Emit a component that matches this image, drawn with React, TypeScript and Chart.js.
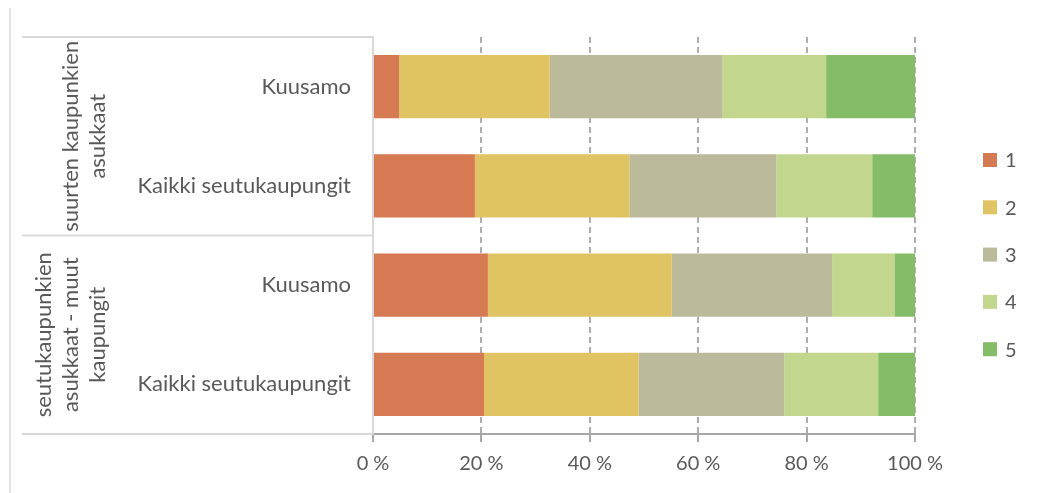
import { useEffect, useRef } from "react";
import { Chart, registerables } from "chart.js";

Chart.register(...registerables);

// Row labels (bottom-level categories) and their outer groups
const categories = ["Kuusamo", "Kaikki seutukaupungit", "Kuusamo", "Kaikki seutukaupungit"];
const groupLabels = [
  ["suurten kaupunkien", "asukkaat"],
  ["seutukaupunkien", "asukkaat - muut", "kaupungit"],
];
const groupSizes = [2, 2];

// Answer shares (%) per rating 1..5
const seriesNames = ["1", "2", "3", "4", "5"];
const rating1 = [4.8, 18.8, 21.2, 20.5];
const rating2 = [27.8, 28.5, 33.9, 28.5];
const rating3 = [31.8, 27.1, 29.6, 26.9];
const rating4 = [19.2, 17.7, 11.5, 17.3];
const rating5 = [16.4, 7.9, 3.8, 6.8];
const seriesValues = [rating1, rating2, rating3, rating4, rating5];
const seriesColors = ["#D57A52", "#E0C362", "#BBBA9B", "#C2D78D", "#84BC67"];

const xMin = 0;
const xMax = 100;
const xStep = 20;

const FONT = "Lato, 'Open Sans', sans-serif";
const LABEL_SIZE = 22;
const TICK_SIZE = 20;
const TEXT = "#595959";
const FRAME = "#D9D9D9";
const AXIS = "#A6A6A6";

const decorations = {
  id: "decorations",
  beforeDraw(chart: Chart) {
    const { ctx, chartArea, scales } = chart;
    const y = scales.y;
    ctx.save();
    ctx.fillStyle = "#ffffff";
    ctx.fillRect(0, 0, chart.width, chart.height);

    // outer frame edge on the left
    ctx.strokeStyle = FRAME;
    ctx.lineWidth = 1.5;
    ctx.beginPath();
    ctx.moveTo(10, 8);
    ctx.lineTo(10, chart.height);
    ctx.stroke();

    // category table lines
    ctx.lineWidth = 2;
    const tableLeft = 22;
    const rows: number[] = [chartArea.top];
    let idx = 0;
    groupSizes.forEach((n, g) => {
      idx += n;
      if (g < groupSizes.length - 1) {
        rows.push((y.getPixelForValue(idx - 1) + y.getPixelForValue(idx)) / 2);
      }
    });
    rows.push(chartArea.bottom);
    rows.forEach((ry) => {
      ctx.beginPath();
      ctx.moveTo(tableLeft, ry);
      ctx.lineTo(chartArea.left, ry);
      ctx.stroke();
    });
    ctx.restore();
  },
  afterDraw(chart: Chart) {
    const { ctx, scales } = chart;
    const y = scales.y;
    ctx.save();
    ctx.font = `${LABEL_SIZE}px ${FONT}`;
    ctx.fillStyle = TEXT;
    ctx.textAlign = "center";
    ctx.textBaseline = "middle";

    // rotated group labels
    let start = 0;
    const lastLineX = 98;
    const lineGap = 27;
    groupLabels.forEach((lines, g) => {
      const first = start;
      const last = start + groupSizes[g] - 1;
      const cy = (y.getPixelForValue(first) + y.getPixelForValue(last)) / 2;
      lines.forEach((line, i) => {
        const x = lastLineX - (lines.length - 1 - i) * lineGap;
        ctx.save();
        ctx.translate(x, cy);
        ctx.rotate(-Math.PI / 2);
        ctx.fillText(line, 0, 0);
        ctx.restore();
      });
      start += groupSizes[g];
    });

    // legend column
    ctx.font = `${TICK_SIZE}px ${FONT}`;
    const boxX = 983;
    const box = 14;
    const firstY = 160;
    const step = 47.3;
    ctx.textAlign = "left";
    chart.data.datasets.forEach((ds, i) => {
      const cy = firstY + i * step;
      ctx.fillStyle = ds.backgroundColor as string;
      ctx.fillRect(boxX, cy - box / 2, box, box);
      ctx.fillStyle = TEXT;
      ctx.fillText(String(ds.label), boxX + box + 8, cy + 1);
    });
    ctx.restore();
  },
};

export default function App() {
  const canvasRef = useRef<HTMLCanvasElement | null>(null);

  useEffect(() => {
    const canvas = canvasRef.current;
    if (!canvas) return;
    const chart = new Chart(canvas, {
      type: "bar",
      data: {
        labels: categories,
        datasets: seriesNames.map((name, i) => ({
          label: name,
          data: seriesValues[i],
          backgroundColor: seriesColors[i],
          borderWidth: 0,
          barPercentage: 0.635,
          categoryPercentage: 1,
        })),
      },
      options: {
        indexAxis: "y",
        responsive: false,
        animation: false,
        layout: { padding: { top: 37, right: 122, bottom: 0, left: 0 } },
        plugins: {
          legend: { display: false },
          tooltip: { enabled: false },
        },
        scales: {
          x: {
            stacked: true,
            min: xMin,
            max: xMax,
            ticks: {
              stepSize: xStep,
              padding: 10,
              color: TEXT,
              font: { family: FONT, size: TICK_SIZE },
              callback: (v) => `${v} %`,
            },
            grid: {
              color: (c) => (c.tick && c.tick.value === xMin ? "rgba(0,0,0,0)" : "#ADADAD"),
              lineWidth: 2,
              drawTicks: true,
              tickLength: 8,
              tickColor: AXIS,
              tickWidth: 2,
              tickBorderDash: [],
            },
            border: { display: true, color: AXIS, width: 2, dash: [6, 4] },
            afterFit: (s) => {
              s.height = 59;
            },
          },
          y: {
            stacked: true,
            ticks: {
              padding: 22,
              color: TEXT,
              font: { family: FONT, size: LABEL_SIZE },
            },
            grid: { display: false, drawTicks: false },
            border: { display: true, color: FRAME, width: 2 },
            afterFit: (s) => {
              s.width = 373;
            },
          },
        },
      },
      plugins: [decorations],
    });
    return () => chart.destroy();
  }, []);

  return (
    <div style={{ position: "fixed", left: 0, top: 0, width: 1037, height: 493, background: "#fff" }}>
      <canvas ref={canvasRef} width={1037} height={493} style={{ width: 1037, height: 493 }} />
    </div>
  );
}
